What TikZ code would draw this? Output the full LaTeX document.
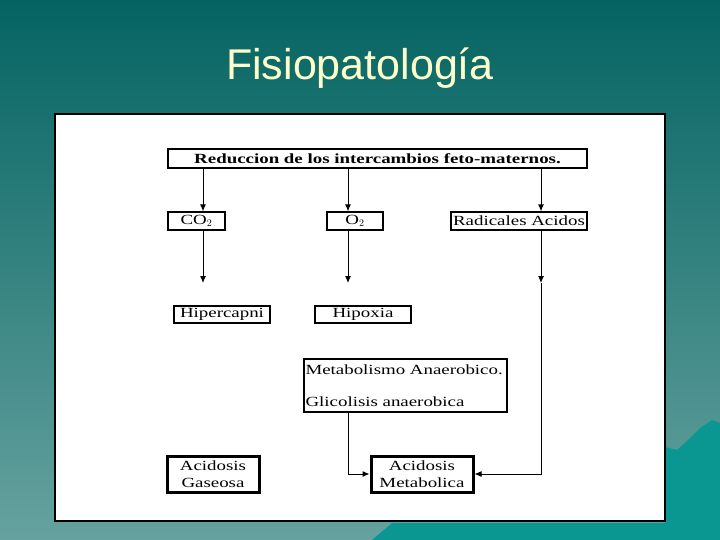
\documentclass[tikz,border=0pt]{standalone}
\usepackage{fontspec}
\setmainfont{Liberation Serif}[FakeStretch=1.35]
\newfontfamily\titlefont{Liberation Sans}
\usetikzlibrary{arrows.meta,calc}
\definecolor{BgTop}{HTML}{046462}
\definecolor{BgBot}{HTML}{66A29F}
\definecolor{SeaClr}{HTML}{0A9792}
\definecolor{TitleClr}{HTML}{FFFFCC}

\tikzset{
  box/.style={draw=black,line width=1.2pt,fill=white,inner sep=0pt,
    font=\fontsize{14}{17}\selectfont},
  thickbox/.style={box,line width=3pt,align=center},
  arr/.style={line width=1pt,-{Latex[length=7pt,width=6pt]}}
}

\begin{document}
\begin{tikzpicture}[x=1pt,y=-1pt]
\useasboundingbox (0,0) rectangle (720,540);

% background
\shade[top color=BgTop,bottom color=BgBot] (0,0) rectangle (720,540);
\fill[SeaClr] (372,540) -- (392,523) -- (665,523) -- (665,447) -- (677,450)
  -- (686,442) -- (700,428) -- (712,420) -- (720,423) -- (720,540) -- cycle;
\node[anchor=base,text=TitleClr,font=\titlefont\fontsize{43}{48}\selectfont]
  (title) at (360,80) {Fisiopatología};
\draw[fill=white,line width=2pt] (55,114) rectangle (665,521);

% boxes
\node[box,minimum width=419pt,minimum height=19pt] (red) at (377.5,158.5)
  {\bfseries Reduccion de los intercambios feto-maternos.};
\node[box,minimum width=57pt,minimum height=18pt] (co) at (196.5,221) {CO$_2$};
\node[box,minimum width=56pt,minimum height=18pt] (oo) at (355,221) {O$_2$};
\node[box,minimum width=136pt,minimum height=18pt] (rad) at (519,221) {Radicales Acidos};
\node[box,minimum width=96pt,minimum height=17pt] (hiper) at (222,314.5) {Hipercapni};
\node[box,minimum width=96pt,minimum height=17pt] (hipox) at (363,314.5) {Hipoxia};
\node[box,minimum height=53pt,text width=200pt,inner xsep=1.5pt,align=left]
  (meta) at (405.5,385.5) {Metabolismo Anaerobico.\\[15pt]Glicolisis anaerobica};
\node[thickbox,minimum width=92pt,minimum height=36pt] (acg) at (213,474)
  {Acidosis\\Gaseosa};
\node[thickbox,minimum width=102pt,minimum height=36pt] (acm) at (422,474)
  {Acidosis\\Metabolica};

% free ends of the arrows
\coordinate (coend) at (203,283);
\coordinate (ooend) at (348,283);
\coordinate (radmid) at (541,283);

% connectors
\draw[arr] (red.south -| coend) -- (co.north -| coend);
\draw[arr] (red.south -| ooend) -- (oo.north -| ooend);
\draw[arr] (red.south -| radmid) -- (rad.north -| radmid);
\draw[arr] (co.south -| coend) -- (coend);
\draw[arr] (oo.south -| ooend) -- (ooend);
\draw[arr] (rad.south -| radmid) -- (radmid);
\draw[arr] (radmid) |- (acm.east);
\draw[arr] (meta.south -| ooend) |- (acm.west);

\end{tikzpicture}
\end{document}
